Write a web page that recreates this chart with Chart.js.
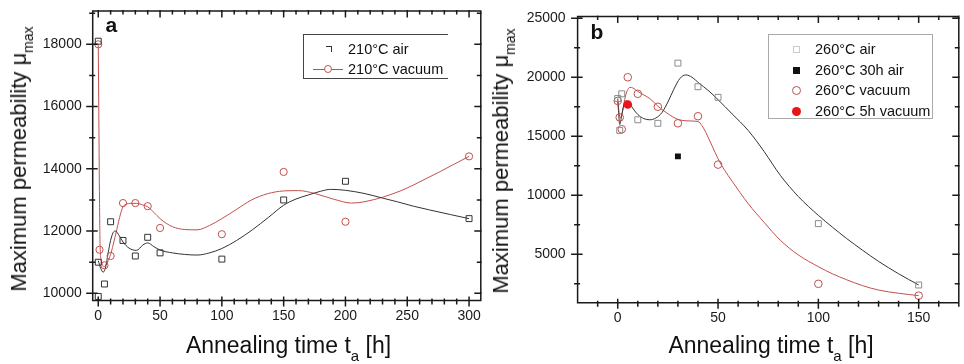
<!DOCTYPE html>
<html><head><meta charset="utf-8">
<script src="https://cdn.jsdelivr.net/npm/chart.js@4/dist/chart.umd.min.js"></script>
<style>
html,body{margin:0;padding:0;background:#fff;}
#wrap{position:relative;width:964px;height:364px;overflow:hidden;font-family:"Liberation Sans",Arial,sans-serif;color:#111;}
canvas{position:absolute;top:0;}
.abs{position:absolute;white-space:nowrap;}
.ytitle{font-size:22px;line-height:22px;transform:translate(-50%,-50%) rotate(-90deg);}
.xtitle{font-size:23px;line-height:23px;transform:translateX(-50%);}
.sub{position:relative;font-size:15px;}
.leg{font-size:14.5px;line-height:16px;}
.lbl{font-size:21px;line-height:21px;font-weight:bold;}
</style></head><body>
<div id="wrap">
<canvas id="ca" width="486" height="364" style="left:0"></canvas>
<canvas id="cb" width="478" height="364" style="left:486px"></canvas>

<div class="abs ytitle" style="left:19.7px;top:158.5px">Maximum permeability μ<span class="sub" style="font-size:14px;top:7px">max</span></div>
<div class="abs ytitle" style="left:502px;top:161px">Maximum permeability μ<span class="sub" style="font-size:14px;top:7px">max</span></div>
<div class="abs xtitle" style="left:288.5px;top:334px">Annealing time t<span class="sub" style="top:8px">a</span> [h]</div>
<div class="abs xtitle" style="left:771px;top:334px">Annealing time t<span class="sub" style="top:8px">a</span> [h]</div>
<div class="abs lbl" style="left:105.5px;top:13.9px">a</div>
<div class="abs lbl" style="left:590.5px;top:20.5px">b</div>

<!-- legend a -->
<div class="abs" style="left:303px;top:34px;width:144px;height:43px;border-top:1px solid #444;border-bottom:1px solid #444;border-left:1px solid #444;"></div>
<div class="abs" style="left:325.5px;top:46px;width:5px;height:5px;border-top:1px solid #333;border-right:1px solid #333;"></div>
<div class="abs leg" style="left:348px;top:40.7px">210°C air</div>
<div class="abs" style="left:312.7px;top:68.8px;width:30.6px;height:1px;background:#c0504d;"></div>
<div class="abs" style="left:324.3px;top:65.3px;width:6px;height:6px;border:1px solid #c0504d;border-radius:50%;background:#fff;"></div>
<div class="abs leg" style="left:348px;top:61.3px">210°C vacuum</div>

<!-- legend b -->
<div class="abs" style="left:768.3px;top:34px;width:163px;height:83px;border:1px solid #aaa;"></div>
<div class="abs" style="left:792.7px;top:46px;width:5px;height:5px;border:1px solid #ccc;"></div>
<div class="abs leg" style="left:815px;top:41px">260°C air</div>
<div class="abs" style="left:792.7px;top:66.5px;width:7px;height:7px;background:#111;"></div>
<div class="abs leg" style="left:815px;top:61.5px">260°C 30h air</div>
<div class="abs" style="left:791.7px;top:86px;width:7px;height:7px;border:1px solid #c0504d;border-radius:50%;"></div>
<div class="abs leg" style="left:815px;top:82px">260°C vacuum</div>
<div class="abs" style="left:791.7px;top:106.5px;width:9px;height:9px;background:#e8141a;border-radius:50%;"></div>
<div class="abs leg" style="left:815px;top:102.5px">260°C 5h vacuum</div>
</div>
<script>
// ---------- Panel a : 210 °C ----------
const tAirA   = [0, 0, 0, 5, 10, 20, 30, 40, 50, 100, 150, 200, 300];
const muAirA  = [18100, 11000, 9900, 10300, 12300, 11700, 11200, 11800, 11300, 11100, 13000, 13600, 12400];
const tVacA   = [0, 1, 5, 10, 20, 30, 40, 50, 100, 150, 200, 300];
const muVacA  = [18000, 11400, 10900, 11200, 12900, 12900, 12800, 12100, 11900, 13900, 12300, 14400];
// fitted curves
const tFitAirA  = [0, 2, 4, 6, 8, 10, 12, 14, 17, 20, 25, 31, 36, 40, 45, 50, 60, 70, 80, 90, 100, 112, 125, 138, 150, 160, 170, 180, 188, 200, 215, 230, 242, 255, 268, 285, 300];
const muFitAirA = [11050, 10800, 10680, 10850, 11300, 11700, 11950, 12000, 11850, 11650, 11450, 11380, 11550, 11620, 11500, 11390, 11300, 11250, 11230, 11300, 11440, 11700, 12050, 12450, 12830, 13030, 13160, 13280, 13340, 13310, 13210, 13060, 12940, 12800, 12680, 12530, 12400];
const tFitVacA  = [0, 0.5, 1, 1.5, 2.5, 3.5, 4.5, 6, 8, 10, 12, 15, 18, 20, 23, 26, 31, 36, 40, 45, 50, 55, 60, 70, 80, 90, 100, 112, 124, 137, 150, 162, 175, 190, 205, 215, 231, 245, 255, 266, 276, 288, 300];
const muFitVacA = [18000, 15500, 13000, 11500, 11050, 10900, 10850, 10900, 11050, 11250, 11550, 12050, 12550, 12780, 12870, 12890, 12890, 12840, 12780, 12600, 12400, 12250, 12140, 12050, 12040, 12180, 12400, 12700, 13000, 13200, 13290, 13300, 13210, 13030, 12900, 12940, 13100, 13300, 13480, 13700, 13900, 14150, 14400];
const xTicksA = [0, 50, 100, 150, 200, 250, 300];
const yTicksA = [10000, 12000, 14000, 16000, 18000];

// ---------- Panel b : 260 °C ----------
const tAirB    = [0, 1, 2, 10, 20, 30, 40, 50, 100, 150];
const muAirB   = [18200, 15500, 18600, 16400, 16100, 21200, 19200, 18300, 7600, 2400];
const tAir30B  = [30];
const muAir30B = [13300];
const tVacB    = [0, 1, 2, 5, 10, 20, 30, 40, 50, 100, 150];
const muVacB   = [18000, 16600, 15600, 20000, 18600, 17500, 16100, 16700, 12600, 2500, 1500];
const tVac5B   = [5];
const muVac5B  = [17700];
const tFitAirB  = [0, 1, 2, 3, 4, 5.5, 7, 10, 13, 16, 19, 22, 25, 28, 31, 34, 37, 40.5, 45, 50, 57, 65, 73, 81, 90, 100, 107, 114, 122, 130, 140, 150];
const muFitAirB = [18200, 16000, 16800, 17600, 18000, 17900, 17500, 16850, 16500, 16400, 16550, 17000, 17900, 19000, 19900, 20200, 20000, 19500, 18900, 18100, 16900, 15500, 13700, 11700, 9900, 8300, 7300, 6350, 5350, 4400, 3350, 2400];
const tFitVacB  = [0, 0.7, 1.3, 2, 3, 4, 5, 6, 7.5, 10, 13, 16, 20, 23, 26, 29, 32, 36, 40, 42, 44, 47, 50, 53, 57, 65, 73, 81, 90, 100, 107, 114, 122, 130, 140, 150];
const muFitVacB = [18000, 17000, 16550, 16800, 17700, 18500, 18950, 19150, 19100, 18800, 18500, 18200, 17550, 17150, 16800, 16500, 16350, 16300, 16250, 15900, 15300, 14200, 13100, 12200, 11200, 9300, 7700, 6200, 4950, 3950, 3350, 2850, 2350, 1970, 1700, 1500];
const xTicksB = [0, 50, 100, 150];
const yTicksB = [5000, 10000, 15000, 20000, 25000];

const pts = (xs, ys) => xs.map((x, i) => ({x: x, y: ys[i]}));
const RED = '#c0504d';
const FONT = {family: 'Liberation Sans', size: 14};

function range(a, b, s){ const r=[]; for(let v=a; v<=b+1e-9; v+=s) r.push(v); return r; }

const framePlugin = {
  id: 'frame',
  afterDatasetsDraw(chart, args, o) {
    const {ctx, chartArea: a, scales: {x, y}} = chart;
    const W = chart.width;
    const L = a.left, T = a.top, B = a.bottom, R = Math.min(a.right, W - 0.8);
    ctx.save();
    ctx.strokeStyle = '#1a1a1a';
    ctx.lineWidth = 1.5;
    ctx.beginPath();
    ctx.rect(L, T, R - L, B - T);
    const xt = (vals, inB, outB, inT, outT) => vals.forEach(v => {
      const p = x.getPixelForValue(v);
      if (p < L - 0.5 || p > R + 0.5) return;
      ctx.moveTo(p, B - inB); ctx.lineTo(p, B + outB);
      ctx.moveTo(p, T - outT); ctx.lineTo(p, T + inT);
    });
    const yt = (vals, inL, outL, inR, outR) => vals.forEach(v => {
      const p = y.getPixelForValue(v);
      if (p < T - 0.5 || p > B + 0.5) return;
      ctx.moveTo(L - outL, p); ctx.lineTo(L + inL, p);
      ctx.moveTo(R - inR, p); ctx.lineTo(R + outR, p);
    });
    xt(o.xMinor, 2, 4, 3.5, 1);
    xt(o.xMajor, 4, 6, 6.5, 1);
    yt(o.yMinor, 2.5, 3.5, 4, 1);
    yt(o.yMajor, 5, 6.5, 6.5, 1);
    ctx.stroke();
    ctx.restore();
  }
};

function makeChart(id, cfg) {
  return new Chart(document.getElementById(id), {
    type: 'scatter',
    data: {datasets: cfg.datasets},
    plugins: [framePlugin],
    options: {
      responsive: false, animation: false, devicePixelRatio: 1,
      layout: {padding: {left: 0, top: cfg.top, right: cfg.right, bottom: 0}},
      plugins: {legend: {display: false}, tooltip: {enabled: false},
        frame: {xMajor: cfg.xTicks, xMinor: cfg.xMinor, yMajor: cfg.yTicks, yMinor: cfg.yMinor}},
      elements: {line: {cubicInterpolationMode: 'monotone'}},
      scales: {
        x: {type: 'linear', min: cfg.xMin, max: cfg.xMax,
          grid: {display: false, drawTicks: false}, border: {display: false},
          afterBuildTicks: s => { s.ticks = cfg.xTicks.map(v => ({value: v})); },
          afterFit: s => { s.height = cfg.xH; s.paddingLeft = 0; s.paddingRight = 0; },
          ticks: {font: FONT, color: '#1a1a1a', padding: 7, maxRotation: 0, autoSkip: false, callback: v => String(v)}},
        y: {type: 'linear', min: cfg.yMin, max: cfg.yMax,
          grid: {display: false, drawTicks: false}, border: {display: false},
          afterBuildTicks: s => { s.ticks = cfg.yTicks.map(v => ({value: v})); },
          afterFit: s => { s.width = cfg.yW; s.paddingTop = 0; s.paddingBottom = 0; },
          ticks: {font: FONT, color: '#1a1a1a', padding: cfg.yPad, autoSkip: false, callback: v => String(v)}}
      }
    }
  });
}

makeChart('ca', {
  top: 11, right: 1.5, xH: 63.5, yW: 92.7, yPad: 11,
  xMin: -4.5, xMax: 309.5, yMin: 9770, yMax: 19070,
  xTicks: xTicksA, xMinor: range(-0, 300, 10), yTicks: yTicksA, yMinor: range(10000, 19000, 1000),
  datasets: [
    {data: pts(tAirA, muAirA), pointStyle: 'rect', pointRadius: 4.2, borderWidth: 1, borderColor: '#333', backgroundColor: 'rgba(0,0,0,0)', order: 1},
    {data: pts(tVacA, muVacA), pointStyle: 'circle', pointRadius: 3.6, borderWidth: 1, borderColor: RED, backgroundColor: 'rgba(0,0,0,0)', order: 1},
    {data: pts(tFitAirA, muFitAirA), showLine: true, pointRadius: 0, borderWidth: 1, borderColor: '#333', order: 2},
    {data: pts(tFitVacA, muFitVacA), showLine: true, pointRadius: 0, borderWidth: 1, borderColor: RED, order: 2}
  ]
});

makeChart('cb', {
  top: 16.5, right: 0, xH: 61.3, yW: 91.6, yPad: 12,
  xMin: -20, xMax: 170, yMin: 900, yMax: 25150,
  xTicks: xTicksB, xMinor: range(-10, 170, 10), yTicks: yTicksB, yMinor: range(2500, 25000, 2500),
  datasets: [
    {data: pts(tVac5B, muVac5B), pointStyle: 'circle', pointRadius: 4.3, borderWidth: 0, borderColor: '#e8141a', backgroundColor: '#e8141a', order: 1},
    {data: pts(tAir30B, muAir30B), pointStyle: 'rect', pointRadius: 4.2, borderWidth: 0, borderColor: '#111', backgroundColor: '#111', order: 1},
    {data: pts(tAirB, muAirB), pointStyle: 'rect', pointRadius: 4.2, borderWidth: 1, borderColor: '#8c8c8c', backgroundColor: 'rgba(0,0,0,0)', order: 1},
    {data: pts(tVacB, muVacB), pointStyle: 'circle', pointRadius: 3.8, borderWidth: 1, borderColor: RED, backgroundColor: 'rgba(0,0,0,0)', order: 1},
    {data: pts(tFitAirB, muFitAirB), showLine: true, pointRadius: 0, borderWidth: 1, borderColor: '#333', order: 2},
    {data: pts(tFitVacB, muFitVacB), showLine: true, pointRadius: 0, borderWidth: 1, borderColor: RED, order: 2}
  ]
});
</script>
</body></html>
